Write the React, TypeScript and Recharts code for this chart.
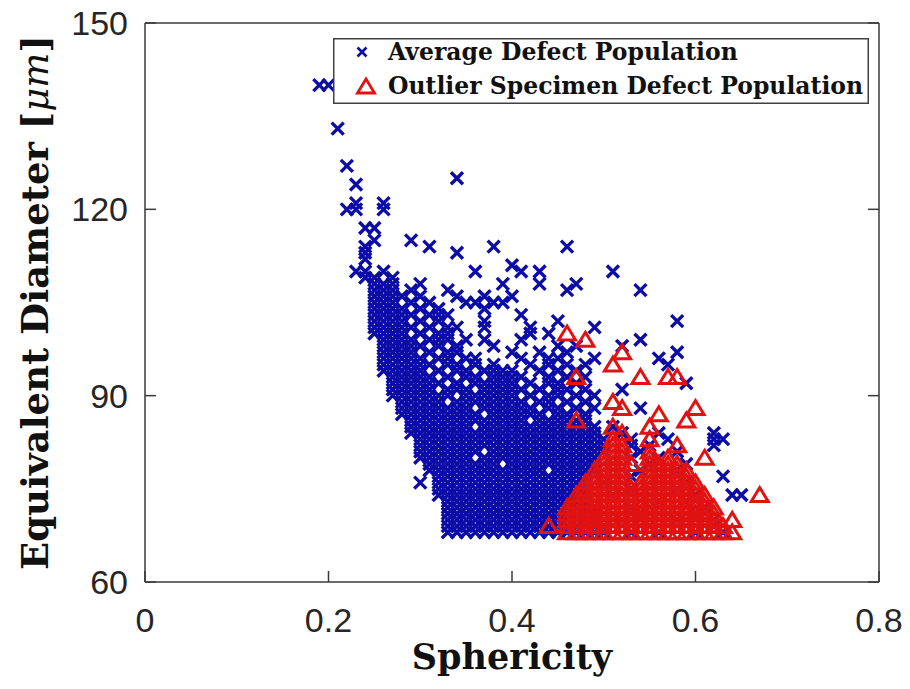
import React from 'react';
import { ScatterChart, Scatter, XAxis, YAxis, Legend, Label } from 'recharts';

// ---------- layout ----------
const W = 910;
const H = 689;
const PL = 145;
const PR = 879;
const PT = 23;
const PB = 582;
const M = { top: PT - 1, right: W - PR - 1, bottom: H - PB - 1, left: PL - 1 };
const AX = '#3a3a3a';
const BLUE = '#0c0ca8';
const RED = '#e01212';

// ---------- axes ----------
const xDomain: [number, number] = [0, 0.8];
const yDomain: [number, number] = [60, 150];
const xTicks = [0, 0.2, 0.4, 0.6, 0.8];
const xTickLabels = ['0', '0.2', '0.4', '0.6', '0.8'];
const yTicks = [60, 90, 120, 150];
const yTickLabels = ['60', '90', '120', '150'];
const xTitle = 'Sphericity';
const seriesNames = ['Average Defect Population', 'Outlier Specimen Defect Population'];

// ---------- data (sphericity in hundredths, equivalent diameter in µm) ----------
// rows: [diameter, sphericity values (x100)]
const blueRows: [number, number[]][] = [
  [68, [33, 34, 35, 36, 37, 38, 39, 40, 41, 42, 43, 44, 45, 46, 47, 48, 49, 50, 53, 56, 60, 63]],
  [69, [33, 34, 35, 36, 37, 38, 39, 40, 41, 42, 43, 44, 45, 46, 47, 48, 49, 50, 55, 62]],
  [70, [33, 34, 35, 36, 37, 38, 39, 40, 41, 42, 43, 44, 45, 46, 47, 48, 49, 52, 58, 62]],
  [71, [33, 34, 35, 36, 37, 38, 39, 40, 41, 42, 43, 44, 45, 46, 47, 48, 49, 54, 60]],
  [72, [33, 34, 35, 36, 37, 38, 39, 40, 41, 42, 43, 44, 45, 46, 47, 48, 49, 53, 61]],
  [73, [33, 34, 35, 36, 37, 38, 39, 40, 41, 42, 43, 44, 45, 46, 47, 48, 56, 59]],
  [74, [32, 33, 34, 35, 36, 37, 38, 39, 40, 41, 42, 43, 44, 45, 46, 47, 48, 51, 60, 64, 65]],
  [75, [32, 33, 34, 35, 36, 37, 38, 39, 40, 41, 42, 43, 44, 45, 46, 47, 48, 53, 58]],
  [76, [30, 32, 33, 34, 35, 36, 37, 38, 39, 40, 41, 42, 43, 44, 45, 46, 47, 48, 50, 59]],
  [77, [32, 33, 34, 35, 36, 37, 38, 39, 40, 41, 42, 43, 44, 45, 46, 47, 48, 53, 63]],
  [78, [31, 32, 33, 34, 35, 36, 37, 38, 39, 40, 41, 42, 43, 45, 46, 47, 48, 49, 54, 58]],
  [79, [31, 32, 33, 34, 35, 36, 37, 38, 40, 41, 42, 43, 44, 45, 46, 47, 48, 49, 55, 59]],
  [80, [30, 31, 32, 33, 34, 35, 37, 38, 39, 40, 41, 42, 43, 44, 45, 46, 47, 48, 49, 53, 56]],
  [81, [30, 31, 32, 33, 34, 35, 36, 38, 39, 40, 41, 42, 43, 44, 45, 46, 47, 48, 49, 50, 54, 58]],
  [82, [30, 31, 32, 33, 34, 35, 36, 37, 38, 39, 40, 41, 42, 43, 44, 45, 46, 47, 48, 49, 50, 53, 55, 62]],
  [83, [30, 31, 32, 33, 34, 35, 36, 37, 38, 39, 40, 41, 42, 43, 44, 45, 46, 47, 48, 49, 50, 53, 57, 62, 63]],
  [84, [29, 30, 31, 32, 33, 34, 35, 36, 37, 38, 39, 40, 41, 42, 43, 44, 45, 46, 47, 48, 49, 52, 56, 62]],
  [85, [29, 30, 31, 32, 33, 34, 35, 37, 38, 39, 40, 41, 42, 43, 44, 45, 46, 47, 48, 49, 51]],
  [86, [29, 30, 31, 32, 33, 34, 35, 36, 37, 38, 39, 40, 41, 43, 44, 45, 46, 47, 48]],
  [87, [28, 29, 30, 31, 32, 33, 34, 35, 36, 38, 39, 40, 41, 42, 43, 45, 46, 48]],
  [88, [28, 29, 30, 31, 32, 33, 34, 35, 37, 38, 39, 40, 41, 42, 44, 45, 47, 49, 54]],
  [89, [28, 29, 30, 31, 32, 34, 35, 36, 37, 38, 39, 40, 41, 43, 44, 46, 48]],
  [90, [27, 28, 29, 30, 31, 32, 33, 35, 36, 37, 38, 39, 40, 42, 44, 45, 47, 49]],
  [91, [27, 28, 29, 30, 31, 33, 34, 35, 37, 38, 39, 40, 41, 43, 45, 46, 48, 52]],
  [92, [27, 28, 29, 30, 31, 32, 34, 36, 37, 38, 39, 40, 42, 44, 45, 47, 59]],
  [93, [27, 28, 29, 30, 31, 33, 35, 36, 38, 39, 40, 41, 44, 46, 48]],
  [94, [26, 27, 28, 29, 30, 32, 34, 35, 37, 38, 39, 40, 43, 45, 47]],
  [95, [26, 27, 28, 29, 30, 31, 33, 34, 36, 38, 42, 44, 46, 48, 57]],
  [96, [26, 27, 28, 29, 30, 32, 33, 35, 36, 41, 44, 45, 49, 56]],
  [97, [26, 27, 28, 29, 31, 33, 34, 40, 43, 46, 58]],
  [98, [26, 27, 28, 29, 30, 32, 34, 38, 45, 47, 52]],
  [99, [26, 27, 28, 29, 31, 32, 33, 35, 37, 41, 54]],
  [100, [25, 26, 27, 28, 30, 32, 33, 42, 44]],
  [101, [25, 26, 27, 28, 29, 31, 33, 34, 37, 42, 49]],
  [102, [25, 26, 27, 28, 30, 32, 37, 45, 58]],
  [103, [25, 26, 27, 28, 29, 31, 32, 33, 41]],
  [104, [25, 26, 27, 28, 30, 32, 37]],
  [105, [25, 26, 27, 29, 31, 35, 36, 38, 39]],
  [106, [25, 26, 27, 28, 30, 34, 37, 40]],
  [107, [25, 26, 27, 29, 33, 46, 54]],
  [108, [25, 26, 27, 30, 39, 43, 47]],
  [109, [24, 25, 27]],
  [110, [23, 24, 26, 36, 41, 43, 51]],
  [111, [40]],
  [112, [24]],
];

// isolated points: [sphericity x100, diameter]
const blueSparse: [number, number][] = [
  [19, 140], [20, 140], [21, 133], [22, 127], [23, 124], [34, 125],
  [22, 120], [23, 121], [23, 120], [26, 121], [26, 120],
  [24, 117], [25, 117], [24, 114], [25, 115], [24, 113],
  [29, 115], [31, 114], [34, 113], [38, 114], [46, 114],
];

const redRows: [number, number[]][] = [
  [68, [46, 47, 48, 49, 50, 51, 52, 53, 54, 55, 56, 57, 58, 59, 60, 61, 62, 63, 64]],
  [69, [44, 46, 47, 48, 49, 50, 51, 52, 53, 54, 55, 56, 57, 58, 59, 60, 61, 62, 63]],
  [70, [46, 47, 48, 49, 50, 51, 52, 53, 54, 55, 56, 57, 58, 59, 60, 61, 62, 64]],
  [71, [46, 47, 48, 49, 50, 51, 52, 53, 54, 55, 56, 57, 58, 59, 60, 61, 62]],
  [72, [46, 47, 48, 49, 50, 51, 52, 53, 54, 55, 56, 57, 58, 59, 60, 61, 62]],
  [73, [47, 48, 49, 50, 51, 52, 53, 54, 55, 56, 57, 58, 59, 60, 61]],
  [74, [47, 48, 49, 50, 51, 52, 53, 54, 55, 56, 57, 58, 59, 60, 61, 67]],
  [75, [48, 49, 50, 51, 52, 53, 54, 55, 56, 57, 58, 59, 60]],
  [76, [48, 49, 50, 51, 52, 54, 55, 56, 57, 58, 59, 60]],
  [77, [49, 50, 51, 52, 55, 56, 57, 58, 59]],
  [78, [49, 50, 51, 52, 55, 56, 57, 58, 59]],
  [79, [50, 51, 52, 53, 55, 56, 57, 58]],
  [80, [50, 51, 52, 55, 57, 61]],
  [81, [51, 52, 55]],
  [82, [51, 52, 58]],
  [83, [51, 55]],
  [84, [52]],
  [85, [51, 55]],
  [86, [47, 59]],
  [87, [56]],
  [88, [52, 60]],
  [89, [51]],
  [93, [47, 54, 57, 58]],
  [95, [51]],
  [97, [52]],
  [99, [48]],
  [100, [46]],
];

const rowsToPoints = (rows: [number, number[]][]) =>
  rows.flatMap(([y, hs]) => hs.map((h) => ({ x: h / 100, y })));

const blueData = [
  ...rowsToPoints(blueRows),
  ...blueSparse.map(([h, y]) => ({ x: h / 100, y })),
];
const redData = rowsToPoints(redRows);

// ---------- markers ----------
const XMark = (props: any) => {
  const { cx, cy } = props;
  if (cx == null || cy == null) return <g />;
  const s = 6;
  return (
    <path
      d={`M${cx - s},${cy - s}L${cx + s},${cy + s}M${cx - s},${cy + s}L${cx + s},${cy - s}`}
      stroke={BLUE}
      strokeWidth={3.4}
      fill="none"
    />
  );
};

const TriMark = (props: any) => {
  const { cx, cy } = props;
  if (cx == null || cy == null) return <g />;
  return (
    <path
      d={`M${cx},${cy - 7.5}L${cx + 8.5},${cy + 6.5}L${cx - 8.5},${cy + 6.5}Z`}
      stroke={RED}
      strokeWidth={3}
      strokeLinejoin="miter"
      fill="none"
    />
  );
};

// ---------- ticks ----------
const TICK_LEN = 11;
const tickFont = { fontFamily: '"Liberation Sans", Arial, sans-serif', fontSize: 34, fill: '#262626' };

const XTick = (props: any) => {
  const { x, payload } = props;
  const i = xTicks.indexOf(payload.value);
  return (
    <g>
      <line x1={x} x2={x} y1={PB} y2={PB - TICK_LEN} stroke={AX} strokeWidth={1.5} />
      <text x={x} y={PB + 50} textAnchor="middle" {...tickFont}>
        {xTickLabels[i]}
      </text>
    </g>
  );
};

const TopTick = (props: any) => {
  const { x } = props;
  return <line x1={x} x2={x} y1={PT} y2={PT + TICK_LEN} stroke={AX} strokeWidth={1.5} />;
};

const YTick = (props: any) => {
  const { y, payload } = props;
  const i = yTicks.indexOf(payload.value);
  return (
    <g>
      <line x1={PL} x2={PL + TICK_LEN} y1={y} y2={y} stroke={AX} strokeWidth={1.5} />
      <text x={PL - 17} y={y} dy={12} textAnchor="end" {...tickFont}>
        {yTickLabels[i]}
      </text>
    </g>
  );
};

const RightTick = (props: any) => {
  const { y } = props;
  return <line x1={PR} x2={PR - TICK_LEN} y1={y} y2={y} stroke={AX} strokeWidth={1.5} />;
};

const titleFont = { fontFamily: '"DejaVu Serif", serif', fontWeight: 700, fill: '#111' };

const XTitle = () => (
  <text x={(PL + PR) / 2} y={PB + 87} textAnchor="middle" fontSize={35} {...titleFont}>
    {xTitle}
  </text>
);

const YTitle = () => {
  const cx = 48;
  const cy = (PT + PB) / 2;
  return (
    <text
      x={cx}
      y={cy}
      transform={`rotate(-90 ${cx} ${cy})`}
      textAnchor="middle"
      fontSize={37}
      {...titleFont}
    >
      Equivalent Diameter [<tspan fontStyle="italic" fontWeight={400}>μm</tspan>]
    </text>
  );
};

// ---------- legend ----------
const LEG = { left: 333, top: 38, width: 536, height: 66 };

const LegendBox = (props: any) => {
  const payload = props.payload || [];
  const names = payload.length === 2 ? payload.map((p: any) => p.value) : seriesNames;
  return (
    <svg width={LEG.width} height={LEG.height} style={{ display: 'block' }}>
      <rect x={0.75} y={0.75} width={LEG.width - 1.5} height={LEG.height - 1.5} fill="#fff" stroke="#404040" strokeWidth={1.5} />
      <path d="M24.5,9.5L33.5,18.5M24.5,18.5L33.5,9.5" stroke={BLUE} strokeWidth={2.6} fill="none" />
      <path d="M33,41L41.5,55L24.5,55Z" stroke={RED} strokeWidth={2.8} fill="none" />
      <text x={55} y={22} fontSize={23.5} {...titleFont}>{names[0]}</text>
      <text x={55} y={56} fontSize={23.5} {...titleFont}>{names[1]}</text>
    </svg>
  );
};

export default function App() {
  return (
    <div style={{ position: 'absolute', left: 0, top: 0, width: W, height: H, background: '#fff' }}>
      <ScatterChart width={W} height={H} margin={M}>
        <XAxis
          type="number"
          dataKey="x"
          domain={xDomain}
          ticks={xTicks}
          interval={0}
          height={1}
          axisLine={{ stroke: AX, strokeWidth: 1.5 }}
          tickLine={false}
          tick={XTick}
          allowDataOverflow
        >
          <Label content={XTitle} />
        </XAxis>
        <XAxis
          xAxisId="top"
          orientation="top"
          type="number"
          domain={xDomain}
          ticks={xTicks}
          interval={0}
          height={1}
          axisLine={{ stroke: AX, strokeWidth: 1.5 }}
          tickLine={false}
          tick={TopTick}
          allowDataOverflow
        />
        <YAxis
          type="number"
          dataKey="y"
          domain={yDomain}
          ticks={yTicks}
          interval={0}
          width={1}
          axisLine={{ stroke: AX, strokeWidth: 1.5 }}
          tickLine={false}
          tick={YTick}
          allowDataOverflow
        >
          <Label content={YTitle} />
        </YAxis>
        <YAxis
          yAxisId="right"
          orientation="right"
          type="number"
          domain={yDomain}
          ticks={yTicks}
          interval={0}
          width={1}
          axisLine={{ stroke: AX, strokeWidth: 1.5 }}
          tickLine={false}
          tick={RightTick}
          allowDataOverflow
        />
        <Legend
          layout="horizontal"
          verticalAlign="middle"
          align="center"
          content={LegendBox}
          wrapperStyle={{ position: 'absolute', left: LEG.left, top: LEG.top, width: LEG.width, height: LEG.height }}
        />
        <Scatter name={seriesNames[0]} data={blueData} shape={XMark} isAnimationActive={false} />
        <Scatter name={seriesNames[1]} data={redData} shape={TriMark} isAnimationActive={false} />
      </ScatterChart>
    </div>
  );
}
